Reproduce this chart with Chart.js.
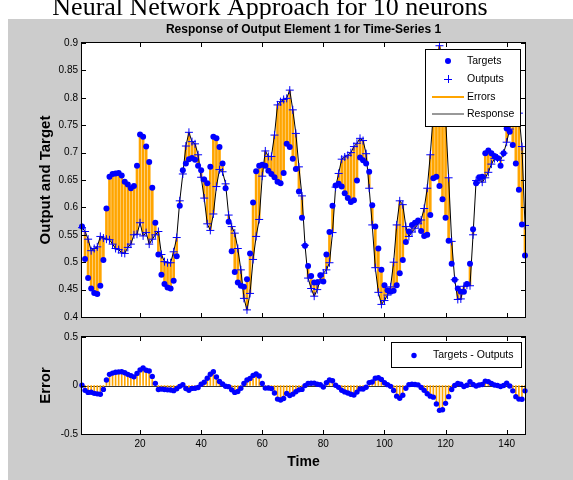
<!DOCTYPE html>
<html>
<head>
<meta charset="utf-8">
<title>Response of Output Element 1</title>
<script src="https://cdn.jsdelivr.net/npm/chart.js@4.4.1/dist/chart.umd.min.js"></script>
<style>
  html, body { margin: 0; padding: 0; background: #fff; }
  #fig { position: relative; width: 573px; height: 480px; overflow: hidden; }
  #fig canvas { position: absolute; left: 0; top: 0; }
</style>
</head>
<body>
<div id="fig">
  <canvas id="resp" width="573" height="480"></canvas>
  <canvas id="err" width="573" height="480"></canvas>
</div>
<script>
// time steps of the series
const timeSteps = [
  1, 2, 3, 4, 5, 6, 7, 8, 9, 10, 11, 12, 13, 14, 15, 16, 17, 18, 19, 20,
  21, 22, 23, 24, 25, 26, 27, 28, 29, 30, 31, 32, 33, 34, 35, 36, 37, 38, 39, 40,
  41, 42, 43, 44, 45, 46, 47, 48, 49, 50, 51, 52, 53, 54, 55, 56, 57, 58, 59, 60,
  61, 62, 63, 64, 65, 66, 67, 68, 69, 70, 71, 72, 73, 74, 75, 76, 77, 78, 79, 80,
  81, 82, 83, 84, 85, 86, 87, 88, 89, 90, 91, 92, 93, 94, 95, 96, 97, 98, 99, 100,
  101, 102, 103, 104, 105, 106, 107, 108, 109, 110, 111, 112, 113, 114, 115, 116, 117, 118, 119, 120,
  121, 122, 123, 124, 125, 126, 127, 128, 129, 130, 131, 132, 133, 134, 135, 136, 137, 138, 139, 140,
  141, 142, 143, 144, 145, 146
];

const targets = [
  0.565, 0.506, 0.471, 0.452, 0.444, 0.442, 0.457, 0.504, 0.598, 0.656,
  0.661, 0.662, 0.663, 0.658, 0.647, 0.642, 0.635, 0.639, 0.676, 0.733,
  0.729, 0.711, 0.683, 0.636, 0.572, 0.514, 0.477, 0.460, 0.454, 0.452,
  0.466, 0.511, 0.603, 0.668, 0.680, 0.688, 0.690, 0.687, 0.676, 0.668,
  0.651, 0.644, 0.674, 0.729, 0.726, 0.710, 0.680, 0.635, 0.574, 0.520,
  0.482, 0.463, 0.457, 0.455, 0.469, 0.516, 0.609, 0.666, 0.676, 0.678,
  0.676, 0.667, 0.661, 0.655, 0.647, 0.644, 0.663, 0.716, 0.710, 0.689,
  0.670, 0.629, 0.581, 0.530, 0.493, 0.475, 0.463, 0.463, 0.476, 0.465,
  0.514, 0.555, 0.603, 0.640, 0.643, 0.638, 0.626, 0.617, 0.610, 0.613,
  0.649, 0.691, 0.686, 0.680, 0.665, 0.604, 0.565, 0.525, 0.486, 0.458,
  0.449, 0.446, 0.448, 0.458, 0.480, 0.504, 0.537, 0.556, 0.568, 0.572,
  0.576, 0.557, 0.548, 0.550, 0.586, 0.653, 0.656, 0.639, 0.615, 0.581,
  0.539, 0.497, 0.468, 0.452, 0.446, 0.446, 0.460, 0.497, 0.560, 0.644,
  0.655, 0.656, 0.699, 0.704, 0.699, 0.694, 0.690, 0.676, 0.699, 0.744,
  0.738, 0.714, 0.680, 0.632, 0.569, 0.512
];

const outputs = [
  0.563, 0.556, 0.542, 0.521, 0.525, 0.528, 0.547, 0.544, 0.542, 0.541,
  0.533, 0.525, 0.523, 0.517, 0.516, 0.527, 0.533, 0.550, 0.551, 0.572,
  0.548, 0.554, 0.533, 0.542, 0.550, 0.556, 0.514, 0.501, 0.499, 0.499,
  0.519, 0.545, 0.612, 0.661, 0.712, 0.737, 0.720, 0.716, 0.696, 0.655,
  0.617, 0.570, 0.558, 0.588, 0.638, 0.669, 0.665, 0.643, 0.586, 0.565,
  0.553, 0.525, 0.486, 0.434, 0.413, 0.443, 0.505, 0.547, 0.578, 0.657,
  0.703, 0.693, 0.693, 0.732, 0.787, 0.793, 0.797, 0.799, 0.814, 0.778,
  0.735, 0.674, 0.621, 0.531, 0.471, 0.452, 0.438, 0.450, 0.468, 0.480,
  0.486, 0.499, 0.554, 0.637, 0.662, 0.688, 0.692, 0.695, 0.700, 0.711,
  0.717, 0.726, 0.722, 0.698, 0.635, 0.568, 0.490, 0.445, 0.423, 0.430,
  0.440, 0.455, 0.500, 0.568, 0.612, 0.605, 0.565, 0.547, 0.555, 0.562,
  0.570, 0.577, 0.598, 0.635, 0.696, 0.773, 0.846, 0.895, 0.865, 0.765,
  0.654, 0.538, 0.468, 0.432, 0.433, 0.456, 0.458, 0.457, 0.550, 0.649,
  0.650, 0.646, 0.654, 0.664, 0.679, 0.689, 0.690, 0.686, 0.699, 0.719,
  0.743, 0.769, 0.795, 0.772, 0.711, 0.567
];

// error = targets - outputs, as in the lower panel legend
const errors = targets.map((t, i) => t - outputs[i]);

const timeTicks = [20, 40, 60, 80, 100, 120, 140];
const respTicks = [0.4, 0.45, 0.5, 0.55, 0.6, 0.65, 0.7, 0.75, 0.8, 0.85, 0.9];
const errTicks = [-0.5, 0, 0.5];

const SANS = '"Liberation Sans", Arial, sans-serif';
const BLUE = '#0000ff';
const ORANGE = '#ffa500';
const FIG_GRAY = '#cccccc';

Chart.defaults.font.family = SANS;
Chart.defaults.color = '#000';

// matlab-like axes: white box, inward ticks on all sides, boxed legend
const matlabAxes = {
  id: 'matlabAxes',
  beforeDraw(chart, args, opts) {
    const { ctx, chartArea: a } = chart;
    ctx.save();
    if (opts.figure) {
      ctx.fillStyle = '#ffffff';
      ctx.fillRect(0, 0, chart.width, chart.height);
      ctx.fillStyle = '#000';
      ctx.font = '26px "Liberation Serif", "Times New Roman", serif';
      ctx.textAlign = 'center';
      ctx.textBaseline = 'alphabetic';
      ctx.fillText(opts.figure.heading, 270, 15);
      ctx.fillStyle = FIG_GRAY;
      ctx.fillRect(8, 19, chart.width - 8, chart.height - 19);
      ctx.fillStyle = '#000';
      ctx.font = 'bold 12px ' + SANS;
      ctx.fillText(opts.figure.title, (a.left + a.right) / 2, 33);
    }
    ctx.fillStyle = '#ffffff';
    ctx.fillRect(a.left, a.top, a.right - a.left, a.bottom - a.top);
    ctx.restore();
  },
  beforeDatasetsDraw(chart, args, opts) {
    if (!opts.zeroLine) return;
    const { ctx, chartArea: a, scales: { y } } = chart;
    const y0 = Math.round(y.getPixelForValue(0)) + 0.5;
    ctx.save();
    ctx.strokeStyle = '#333';
    ctx.lineWidth = 1;
    ctx.beginPath();
    ctx.moveTo(a.left, y0);
    ctx.lineTo(a.right, y0);
    ctx.stroke();
    ctx.restore();
  },
  afterDatasetsDraw(chart, args, opts) {
    const { ctx, chartArea: a, scales: { x, y } } = chart;
    const tl = 4;
    ctx.save();
    ctx.strokeStyle = '#000';
    ctx.lineWidth = 1;
    ctx.beginPath();
    opts.xTicks.forEach(v => {
      const px = Math.round(x.getPixelForValue(v)) + 0.5;
      ctx.moveTo(px, a.bottom); ctx.lineTo(px, a.bottom - tl);
      ctx.moveTo(px, a.top); ctx.lineTo(px, a.top + tl);
    });
    opts.yTicks.forEach(v => {
      const py = Math.round(y.getPixelForValue(v)) + 0.5;
      ctx.moveTo(a.left, py); ctx.lineTo(a.left + tl, py);
      ctx.moveTo(a.right, py); ctx.lineTo(a.right - tl, py);
    });
    ctx.stroke();
    ctx.strokeRect(a.left - 0.5, a.top - 0.5, a.right - a.left + 1, a.bottom - a.top + 1);

    const lg = opts.legend;
    if (lg) {
      const [bx, by, bw, bh] = lg.box;
      ctx.fillStyle = '#fff';
      ctx.fillRect(bx, by, bw, bh);
      ctx.strokeRect(bx + 0.5, by + 0.5, bw, bh);
      ctx.font = lg.fontSize + 'px ' + SANS;
      ctx.textAlign = 'left';
      ctx.textBaseline = 'middle';
      lg.items.forEach((idx, row) => {
        const ds = chart.data.datasets[idx];
        const cy = lg.rowY[row];
        if (ds.legendKind === 'dot') {
          ctx.fillStyle = ds.pointBackgroundColor;
          ctx.beginPath();
          ctx.arc(lg.markerX, cy, ds.pointRadius, 0, Math.PI * 2);
          ctx.fill();
        } else if (ds.legendKind === 'cross') {
          ctx.strokeStyle = ds.pointBorderColor;
          ctx.beginPath();
          ctx.moveTo(lg.markerX - ds.pointRadius, Math.round(cy) + 0.5);
          ctx.lineTo(lg.markerX + ds.pointRadius, Math.round(cy) + 0.5);
          ctx.moveTo(Math.round(lg.markerX) + 0.5, cy - ds.pointRadius);
          ctx.lineTo(Math.round(lg.markerX) + 0.5, cy + ds.pointRadius);
          ctx.stroke();
        } else {
          ctx.strokeStyle = ds.legendColor;
          ctx.lineWidth = ds.legendWidth;
          ctx.beginPath();
          ctx.moveTo(lg.lineX[0], cy);
          ctx.lineTo(lg.lineX[1], cy);
          ctx.stroke();
          ctx.lineWidth = 1;
        }
        ctx.fillStyle = '#000';
        ctx.fillText(ds.label, lg.textX, cy);
      });
    }
    ctx.restore();
  }
};

function yAxis(ticks, title, labelFmt) {
  return {
    min: ticks[0],
    max: ticks[ticks.length - 1],
    afterBuildTicks: s => { s.ticks = ticks.map(v => ({ value: v })); },
    afterFit: s => { s.width = 82; },
    grid: { display: false, drawTicks: false },
    border: { display: false },
    ticks: { font: { size: 10 }, color: '#000', padding: 4, callback: labelFmt },
    title: {
      display: true, text: title, color: '#000',
      font: { size: 15, weight: 'bold' },
      padding: { top: 37, bottom: 0 }
    }
  };
}

new Chart(document.getElementById('resp'), {
  type: 'line',
  data: {
    datasets: [
      {
        type: 'bar', label: 'Errors', legendKind: 'line', legendColor: ORANGE, legendWidth: 2,
        data: timeSteps.map((t, i) => ({ x: t, y: [outputs[i], targets[i]] })),
        backgroundColor: ORANGE, borderWidth: 0, barThickness: 2, order: 4
      },
      {
        label: 'Response', legendKind: 'line', legendColor: '#333', legendWidth: 1,
        data: timeSteps.map((t, i) => ({ x: t, y: outputs[i] })),
        borderColor: '#000', borderWidth: 1, pointRadius: 0, tension: 0, order: 3
      },
      {
        label: 'Targets', legendKind: 'dot',
        data: timeSteps.map((t, i) => ({ x: t, y: targets[i] })),
        showLine: false, pointStyle: 'circle', pointRadius: 3,
        pointBackgroundColor: BLUE, pointBorderWidth: 0, clip: false, order: 2
      },
      {
        label: 'Outputs', legendKind: 'cross',
        data: timeSteps.map((t, i) => ({ x: t, y: outputs[i] })),
        showLine: false, pointStyle: 'cross', pointRadius: 4,
        pointBorderColor: BLUE, pointBorderWidth: 1, clip: false, order: 1
      }
    ]
  },
  options: {
    responsive: false, animation: false, events: [], devicePixelRatio: 1,
    layout: { padding: { left: 0, top: 43, right: 48, bottom: 163 } },
    scales: {
      x: { type: 'linear', min: timeSteps[0], max: timeSteps[timeSteps.length - 1], offset: false, display: false },
      y: yAxis(respTicks, 'Output and Target', v => String(v))
    },
    plugins: {
      legend: { display: false },
      tooltip: { enabled: false },
      matlabAxes: {
        figure: {
          heading: 'Neural Network Approach for 10 neurons',
          title: 'Response of Output Element 1 for Time-Series 1'
        },
        xTicks: timeTicks,
        yTicks: respTicks,
        legend: {
          box: [425, 49, 95, 77], markerX: 448, lineX: [432, 464], textX: 467,
          rowY: [61, 79, 97, 114], fontSize: 10.5, items: [2, 3, 0, 1]
        }
      }
    }
  },
  plugins: [matlabAxes]
});

new Chart(document.getElementById('err'), {
  type: 'line',
  data: {
    datasets: [
      {
        type: 'bar', label: 'Errors',
        data: timeSteps.map((t, i) => ({ x: t, y: errors[i] })),
        backgroundColor: ORANGE, borderWidth: 0, barThickness: 1, order: 2
      },
      {
        label: 'Targets - Outputs', legendKind: 'dot',
        data: timeSteps.map((t, i) => ({ x: t, y: errors[i] })),
        showLine: false, pointStyle: 'circle', pointRadius: 2.7,
        pointBackgroundColor: BLUE, pointBorderWidth: 0, clip: false, order: 1
      }
    ]
  },
  options: {
    responsive: false, animation: false, events: [], devicePixelRatio: 1,
    layout: { padding: { left: 0, top: 337, right: 48, bottom: 0 } },
    scales: {
      x: {
        type: 'linear', min: timeSteps[0], max: timeSteps[timeSteps.length - 1], offset: false,
        afterBuildTicks: s => { s.ticks = timeTicks.map(v => ({ value: v })); },
        afterFit: s => { s.height = 46; },
        grid: { display: false, drawTicks: false },
        border: { display: false },
        ticks: { font: { size: 10 }, color: '#000', padding: 4, maxRotation: 0 },
        title: {
          display: true, text: 'Time', color: '#000',
          font: { size: 14, weight: 'bold' },
          padding: { top: 0, bottom: 9 }
        }
      },
      y: yAxis(errTicks, 'Error', v => String(v))
    },
    plugins: {
      legend: { display: false },
      tooltip: { enabled: false },
      matlabAxes: {
        zeroLine: true,
        xTicks: timeTicks,
        yTicks: errTicks,
        legend: {
          box: [391, 342, 130, 25], markerX: 414, lineX: [400, 428], textX: 433,
          rowY: [355.5], fontSize: 10.5, items: [1]
        }
      }
    }
  },
  plugins: [matlabAxes]
});
</script>
</body>
</html>
